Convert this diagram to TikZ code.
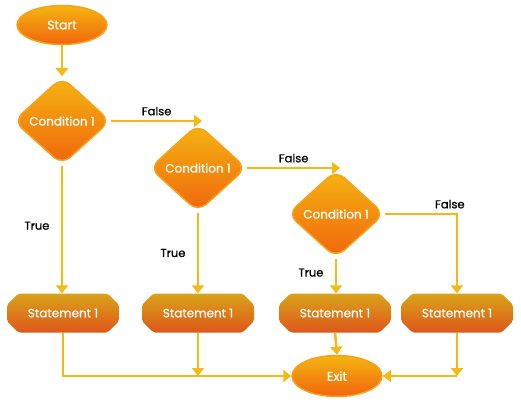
\documentclass[tikz,border=0pt]{standalone}
\usepackage{fontspec}
\setmainfont{Poppins}[BoldFont={Poppins}, BoldFeatures={FakeBold=0.7}]
\usetikzlibrary{arrows.meta, positioning, shapes.geometric, shapes.misc, calc}
\definecolor{flowline}{HTML}{F5B914}
\definecolor{shadetop}{HTML}{F4B511}
\definecolor{shadebot}{HTML}{F1650C}
\definecolor{rimorange}{HTML}{F7A11C}
\definecolor{stattop}{HTML}{D9A41A}
\definecolor{statbot}{HTML}{DE561A}

\begin{document}
\begin{tikzpicture}[
    x=1pt, y=1pt,
    terminal/.style={ellipse, draw=rimorange, line width=1.5pt, top color=shadetop, bottom color=shadebot, minimum width=90pt, minimum height=39pt, text=white, font=\fontsize{12.5}{14}\selectfont\bfseries},
    decision/.style={diamond, draw=rimorange, line width=1.5pt, rounded corners=11pt, top color=shadetop, bottom color=shadebot, minimum width=97pt, minimum height=88pt, inner sep=0pt, text=white, font=\fontsize{12}{13}\selectfont\bfseries},
    statement/.style={chamfered rectangle, chamfered rectangle xsep=9pt, rounded corners=2pt, top color=stattop, bottom color=statbot, minimum width=112pt, minimum height=39pt, text=white, font=\fontsize{12}{13}\selectfont\bfseries},
    arrow/.style={-{Triangle[width=12pt, length=8pt]}, line width=2.5pt, draw=flowline},
    label/.style={font=\fontsize{11.5}{13}\selectfont\bfseries, text=black},
]
\useasboundingbox (0,0) rectangle (521,-406);

\node[terminal] (start) at (62,-25) {Start};
\node[decision] (cond1) at (62,-121) {Condition 1};
\node[decision] (cond2) at (198,-168) {Condition 1};
\node[decision] (cond3) at (336,-214) {Condition 1};
\node[statement] (stat1) at (63,-313) {Statement 1};
\node[statement] (stat2) at (198,-313) {Statement 1};
\node[statement] (stat3) at (335,-313) {Statement 1};
\node[statement] (stat4) at (457,-313) {Statement 1};
\node[terminal, minimum height=41pt] (exit) at (337,-376) {Exit};

\coordinate (false1) at (202,-121);
\coordinate (false2) at (340,-168);
\coordinate (join2) at (stat2.south |- exit.west);
\coordinate (join4) at (stat4.south |- exit.east);

\draw[arrow] (start) -- (cond1);
\draw[arrow] (cond1.east) -- node[label, above=1pt] {False} (false1);
\draw[arrow] (cond2.east) -- node[label, above=1pt] {False} (false2);
\draw[arrow] (cond3.east) -| node[label, pos=0.45, above=1pt] {False} (stat4.north);

\draw[arrow] (cond1.south) -- node[label, left=8pt, pos=0.47] {True} (cond1.south |- stat1.north);
\draw[arrow] (cond2.south) -- node[label, left=8pt, pos=0.5] {True} (cond2.south |- stat2.north);
\draw[arrow] (cond3.south) -- node[label, left=8pt, pos=0.4] {True} (cond3.south |- stat3.north);

\draw[arrow] (stat1.south) |- (exit.west);
\draw[arrow] (stat2.south) -- (join2);
\draw[arrow] (stat3.south) -- (exit.north);
\draw[arrow] (stat4.south) -- (join4);
\draw[arrow] (join4) -- (exit.east);

\end{tikzpicture}
\end{document}
